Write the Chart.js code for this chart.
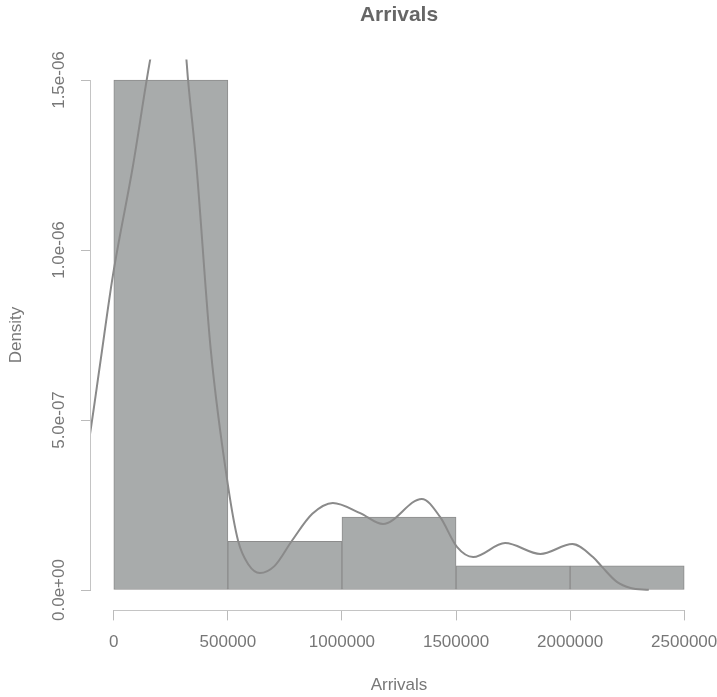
<!DOCTYPE html>
<html>
<head>
<meta charset="utf-8">
<title>Arrivals</title>
<script src="https://cdn.jsdelivr.net/npm/chart.js@4.4.1/dist/chart.umd.min.js"></script>
<style>
  html, body { margin: 0; padding: 0; background: #fff; }
  #wrap { width: 717px; height: 697px; }
</style>
</head>
<body>
<div id="wrap"><canvas id="histChart" width="717" height="697"></canvas></div>
<script>
// histogram bins (mid points) and their densities
const binMids = [250000, 750000, 1250000, 1750000, 2250000];
const binDensity = [1.5e-6, 1.4286e-7, 2.1429e-7, 7.143e-8, 7.143e-8];

// kernel density curve
const densityX = [-125000, -105000, -60000, -5000, 83000, 160000, 200000, 255000, 290000,
  318000, 325000, 360000, 425000, 500000, 545000, 590000, 640000, 705000, 780000, 870000,
  960000, 1080000, 1180000, 1350000, 1430000, 1505000, 1575000, 1715000, 1870000, 2010000,
  2100000, 2140000, 2205000, 2265000, 2345000];
const densityY = [3.76e-7, 4.56e-7, 6.65e-7, 9.21e-7, 1.244e-6, 1.562e-6, 1.69e-6, 1.78e-6, 1.74e-6,
  1.562e-6, 1.503e-6, 1.265e-6, 7.06e-7, 3.09e-7, 1.44e-7, 7.5e-8, 5.0e-8, 7.1e-8, 1.44e-7, 2.24e-7,
  2.56e-7, 2.26e-7, 1.94e-7, 2.68e-7, 2.15e-7, 1.26e-7, 9.7e-8, 1.38e-7, 1.06e-7, 1.35e-7,
  9.7e-8, 6.8e-8, 2.4e-8, 6e-9, 5e-10];

const xTicks = [0, 500000, 1000000, 1500000, 2000000, 2500000];
const yTicks = [0, 5e-7, 1e-6, 1.5e-6];
const yTickLabels = ["0.0e+00", "5.0e-07", "1.0e-06", "1.5e-06"];

const FONT = '"Liberation Sans", Arial, Helvetica, sans-serif';
const TEXT_COLOR = "#777";

// R style axes: line only from first to last tick, y labels turned upright
const rAxes = {
  id: "rAxes",
  afterDraw(chart) {
    const { ctx, scales: { x, y } } = chart;
    ctx.save();
    ctx.strokeStyle = "#c4c4c4";
    ctx.lineWidth = 1;
    ctx.beginPath();
    const ax = Math.round(x.top) + 0.5;
    ctx.moveTo(x.getPixelForValue(xTicks[0]), ax);
    ctx.lineTo(x.getPixelForValue(xTicks[xTicks.length - 1]), ax);
    const ay = Math.round(y.right) - 0.5;
    ctx.moveTo(ay, y.getPixelForValue(yTicks[0]));
    ctx.lineTo(ay, y.getPixelForValue(yTicks[yTicks.length - 1]));
    ctx.stroke();

    ctx.fillStyle = TEXT_COLOR;
    ctx.font = "17px " + FONT;
    ctx.textAlign = "center";
    ctx.textBaseline = "middle";
    yTicks.forEach((v, i) => {
      ctx.save();
      ctx.translate(59, y.getPixelForValue(v));
      ctx.rotate(-Math.PI / 2);
      ctx.fillText(yTickLabels[i], 0, 0);
      ctx.restore();
    });
    ctx.restore();
  }
};

const ctx = document.getElementById("histChart").getContext("2d");

new Chart(ctx, {
  type: "bar",
  data: {
    datasets: [
      {
        type: "line",
        data: densityX.map((v, i) => ({ x: v, y: densityY[i] })),
        borderColor: "#8a8a8a",
        borderWidth: 2,
        pointRadius: 0,
        fill: false,
        cubicInterpolationMode: "monotone",
        order: 0
      },
      {
        type: "bar",
        data: binMids.map((v, i) => ({ x: v, y: binDensity[i] })),
        backgroundColor: "#a8abab",
        borderColor: "#8c8c8c",
        borderWidth: 1,
        borderSkipped: false,
        barPercentage: 1,
        categoryPercentage: 1,
        order: 1
      }
    ]
  },
  options: {
    responsive: false,
    animation: false,
    events: [],
    layout: { padding: { left: 0, right: 10, top: 0, bottom: 0 } },
    plugins: {
      legend: { display: false },
      tooltip: { enabled: false },
      title: {
        display: true,
        text: "Arrivals",
        fullSize: false,
        color: "#666",
        font: { family: FONT, size: 21, weight: "bold" },
        padding: { top: 2.4, bottom: 32 }
      }
    },
    scales: {
      x: {
        type: "linear",
        offset: false,
        min: -100000,
        max: 2600000,
        afterBuildTicks: (scale) => { scale.ticks = xTicks.map((v) => ({ value: v })); },
        afterFit: (scale) => {
          scale.height = 86.6;
          scale.paddingLeft = 0;
          scale.paddingRight = 0;
        },
        border: { display: false },
        grid: { offset: false, drawOnChartArea: false, drawTicks: true, tickLength: 10, color: "#bbb" },
        ticks: {
          autoSkip: false,
          maxRotation: 0,
          padding: 12,
          color: TEXT_COLOR,
          font: { family: FONT, size: 17 },
          callback: (v) => String(v)
        },
        title: {
          display: true,
          text: "Arrivals",
          color: TEXT_COLOR,
          font: { family: FONT, size: 17 },
          padding: { top: 0, bottom: 1 }
        }
      },
      y: {
        min: -0.06e-6,
        max: 1.56e-6,
        afterBuildTicks: (scale) => { scale.ticks = yTicks.map((v) => ({ value: v })); },
        afterFit: (scale) => {
          scale.width = 91;
          scale.paddingTop = 0;
          scale.paddingBottom = 0;
        },
        border: { display: false },
        grid: { drawOnChartArea: false, drawTicks: true, tickLength: 10, color: "#bbb" },
        ticks: { display: false },
        title: {
          display: true,
          text: "Density",
          color: TEXT_COLOR,
          font: { family: FONT, size: 17 },
          padding: { top: 6, bottom: 0 }
        }
      }
    }
  },
  plugins: [rAxes]
});
</script>
</body>
</html>
